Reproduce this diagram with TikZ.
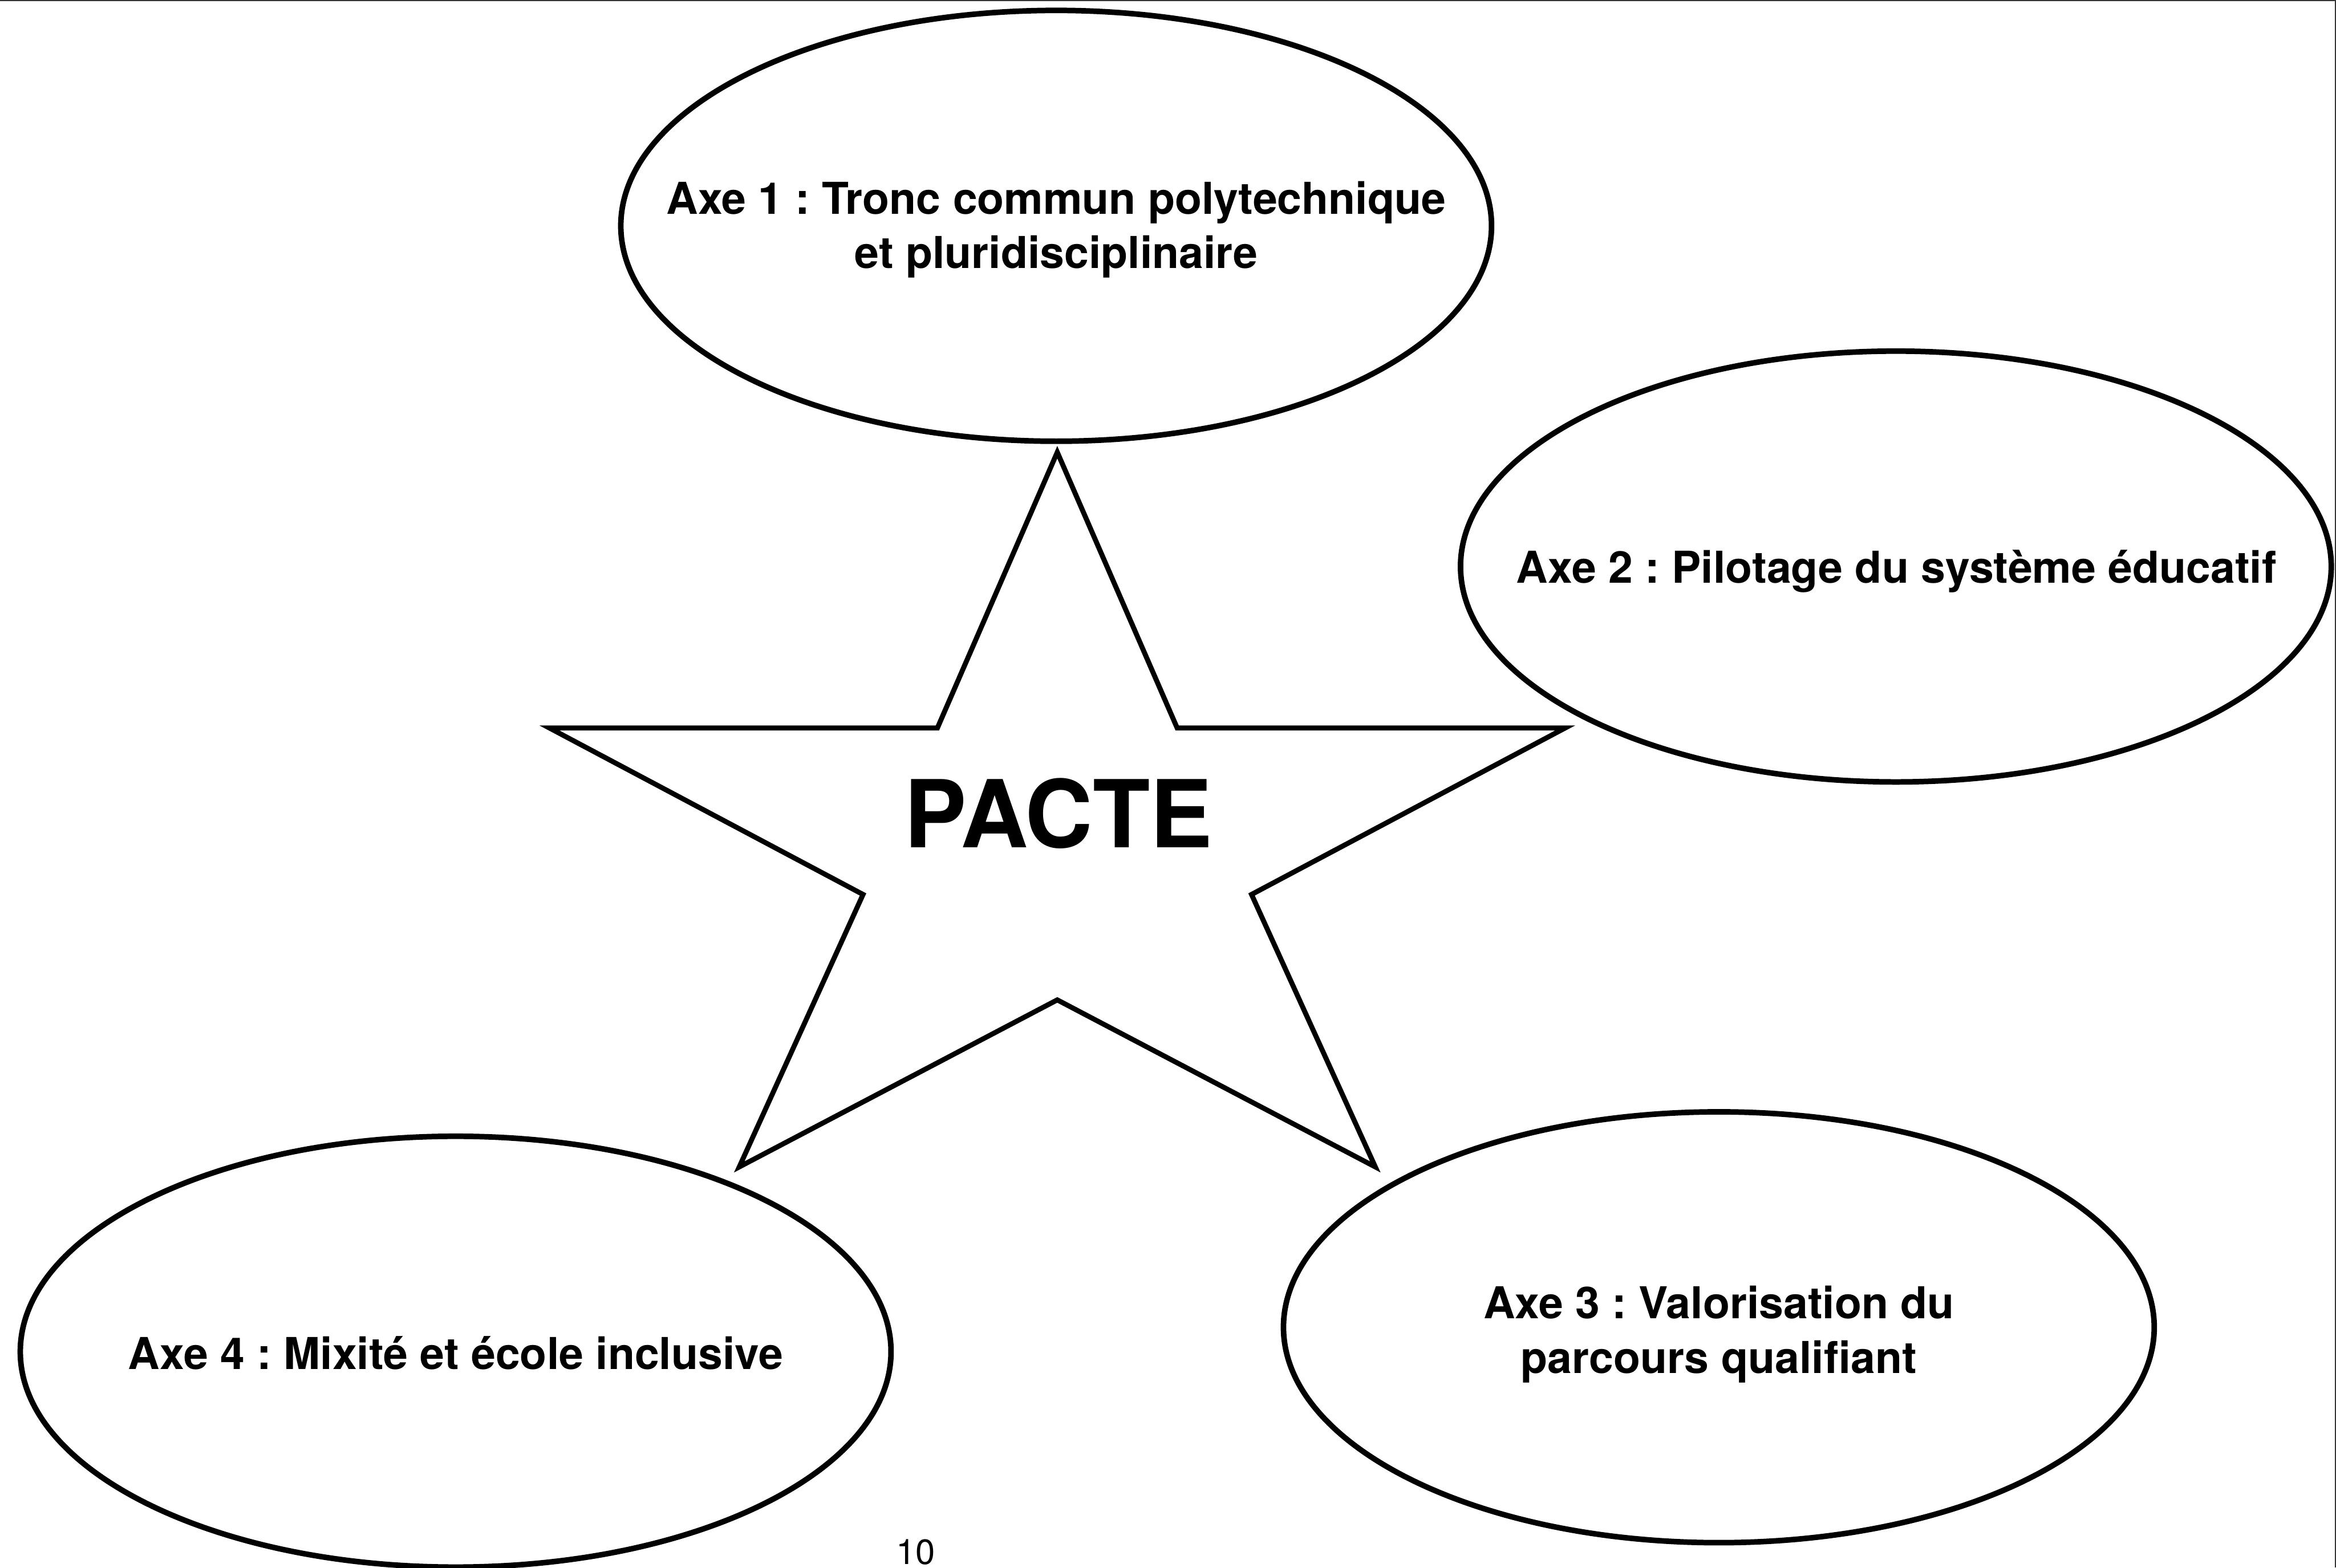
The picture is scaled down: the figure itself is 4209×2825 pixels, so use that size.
\documentclass[tikz,border=0pt]{standalone}
\usepackage{fontspec}
\setmainfont{TeX Gyre Heros}
\usetikzlibrary{shapes.geometric}
\frenchspacing
\tikzset{
  axe/.style={draw=black, line width=0.1cm, ellipse, inner sep=0pt,
    minimum width=15.68cm, minimum height=7.76cm},
  axetxt/.style={anchor=base, inner sep=0pt,
    font=\frenchspacing\fontsize{22.5pt}{28pt}\selectfont\bfseries},
  startxt/.style={anchor=base, inner sep=0pt,
    font=\fontsize{48pt}{56pt}\selectfont\bfseries},
  pagenum/.style={anchor=base, inner sep=0pt,
    font=\fontsize{18pt}{22pt}\selectfont},
  starline/.style={draw=black, line width=0.09cm, line join=miter},
  frameline/.style={draw=black!80, line width=0.02cm}
}
\begin{document}
\begin{tikzpicture}[x=0.01cm, y=-0.01cm]
\useasboundingbox (0,0) rectangle (4209,2825);
\fill[white] (0,0) rectangle (4209,2825);
% frame (top and right edges)
\draw[frameline] (0,1) -- (4208,1) -- (4208,2825);

% ellipses
\node[axe] (e1) at (1903,407) {};
\node[axe] (e2) at (3416,1021) {};
\node[axe] (e3) at (3097,2392) {};
\node[axe] (e4) at (821,2436) {};

% star
\coordinate (sT)   at (1905,815);
\coordinate (sIUR) at (2121,1312);
\coordinate (sOR)  at (2820,1312);
\coordinate (sIR)  at (2255,1612);
\coordinate (sBR)  at (2478,2103);
\coordinate (sIB)  at (1905,1802);
\coordinate (sBL)  at (1332,2103);
\coordinate (sIL)  at (1555,1612);
\coordinate (sOL)  at (990,1312);
\coordinate (sIUL) at (1689,1312);
\draw[starline] (sT) -- (sIUR) -- (sOR) -- (sIR) -- (sBR) -- (sIB)
  -- (sBL) -- (sIL) -- (sOL) -- (sIUL) -- cycle;

% texts
\node[startxt] (pacte) at (1907,1527) {PACTE};
\node[axetxt] (t1a) at (1903,386) {Axe 1 : Tronc commun polytechnique};
\node[axetxt] (t1b) at (1903,484) {et pluridisciplinaire};
\node[axetxt] (t2) at (3417,1051) {Axe 2 : Pilotage du système éducatif};
\node[axetxt] (t3a) at (3097,2376) {Axe 3 : Valorisation du};
\node[axetxt] (t3b) at (3097,2475) {parcours qualifiant};
\node[axetxt] (t4) at (821,2468) {Axe 4 : Mixité et école inclusive};
\node[pagenum] (pn) at (1650,2819) {10};
\end{tikzpicture}
\end{document}
